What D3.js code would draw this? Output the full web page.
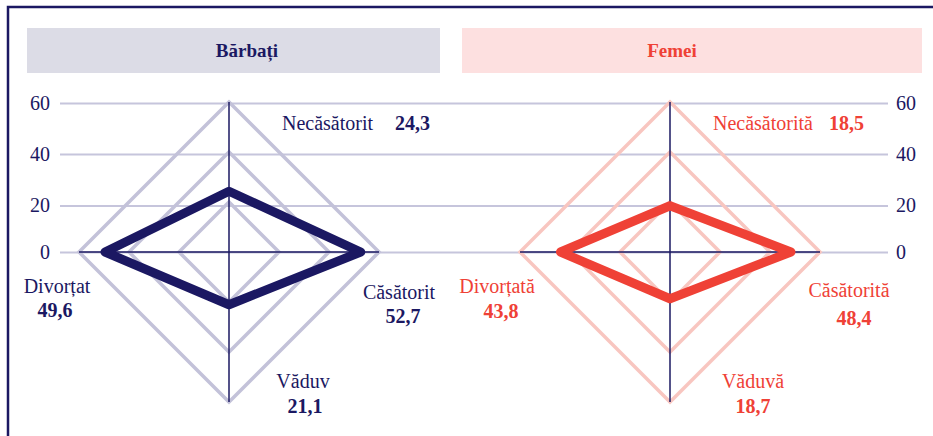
<!DOCTYPE html>
<html>
<head>
<meta charset="utf-8">
<script src="https://cdn.jsdelivr.net/npm/d3@7"></script>
<style>
  body { margin: 0; background: #fff; }
  svg text { font-family: 'Liberation Serif', 'Times New Roman', 'DejaVu Serif', serif !important; }
</style>
</head>
<body>
<script>
// chart data
var categoriesM = ["Necăsătorit", "Căsătorit", "Văduv", "Divorțat"];
var categoriesF = ["Necăsătorită", "Căsătorită", "Văduvă", "Divorțată"];
var valuesM = [24.3, 52.7, 21.1, 49.6];
var valuesF = [18.5, 48.4, 18.7, 43.8];
var ringLevels = [20, 40, 60];
var yTicks = [0, 20, 40, 60];
var titles = ["Bărbați", "Femei"];

var navy = "#1b1862", red = "#ef4136";
var serif = "'Liberation Serif', 'Times New Roman', 'DejaVu Serif', serif";
var w = 933, h = 436;

var svg = d3.select("body").append("svg")
    .attr("width", w)
    .attr("height", h)
    .style("font-family", serif);

// frame (left + top edges only visible)
svg.append("path")
    .attr("d", "M8," + (h + 10) + "L8,7L" + (w + 10) + ",7")
    .attr("fill", "none")
    .attr("stroke", navy)
    .attr("stroke-width", 2.5);

// header boxes
var headers = [
    {x: 27, w: 413, fill: "#dcdce6", color: navy, tx: 247},
    {x: 462, w: 460, fill: "#fde0e0", color: red, tx: 672}
];
headers.forEach(function(hd, i) {
    svg.append("rect")
        .attr("x", hd.x).attr("y", 28)
        .attr("width", hd.w).attr("height", 45)
        .attr("fill", hd.fill);
    svg.append("text")
        .attr("x", hd.tx).attr("y", 57)
        .attr("text-anchor", "middle")
        .style("font-family", serif)
        .style("font-size", "19px")
        .style("font-weight", "bold")
        .attr("fill", hd.color)
        .text(titles[i]);
});

// y scale for the horizontal gridlines
var y = d3.scaleLinear()
    .domain([0, 20, 40, 60])
    .range([252, 205.5, 154, 103]);

var gridLeft = 60, gridRight = 888;

var axL = svg.append("g")
    .attr("transform", "translate(" + gridLeft + ",0)")
    .call(d3.axisLeft(y).tickValues(yTicks).tickSize(-(gridRight - gridLeft)).tickPadding(10));
axL.select(".domain").remove();
axL.selectAll("line").attr("stroke", "#c6c5dc").attr("stroke-width", 2);

var axR = svg.append("g")
    .attr("transform", "translate(" + gridRight + ",0)")
    .call(d3.axisRight(y).tickValues(yTicks).tickSize(0).tickPadding(8));
axR.select(".domain").remove();

svg.selectAll(".tick text")
    .style("font-family", serif)
    .style("font-size", "20px")
    .attr("fill", navy);

// radial scale
var r = d3.scaleLinear().domain([0, 60]).range([0, 150]);
// top, right, bottom, left
var angles = [0, Math.PI / 2, Math.PI, 3 * Math.PI / 2];

function pt(a, v) {
    return [Math.sin(a) * r(v), -Math.cos(a) * r(v)];
}

var charts = [
    {
        cx: 229, cy: 252, cats: categoriesM, vals: valuesM,
        ring: "#c3c2d9", line: navy, text: navy,
        // [name dx, name dy, value dx, value dy, anchor]
        lab: [[53, -122, 166, -122, "start"], [170, 47, 174, 71, "middle"],
              [74, 136, 76, 161, "middle"], [-172, 41, -174, 65, "middle"]]
    },
    {
        cx: 670, cy: 252, cats: categoriesF, vals: valuesF,
        ring: "#f8c6c0", line: red, text: red,
        lab: [[43, -122, 159, -122, "start"], [179, 45, 184, 73, "middle"],
              [83, 136, 83, 161, "middle"], [-173, 41, -169, 66, "middle"]]
    }
];

var line = d3.line().curve(d3.curveLinearClosed);

charts.forEach(function(c) {
    var g = svg.append("g").attr("transform", "translate(" + c.cx + "," + c.cy + ")");

    // rings
    g.selectAll(".ring")
        .data(ringLevels)
        .enter().append("path")
        .attr("d", function(lv) {
            return line(angles.map(function(a) { return pt(a, lv); }));
        })
        .attr("fill", "none")
        .attr("stroke", c.ring)
        .attr("stroke-width", 3.5);

    // axes
    g.append("line")
        .attr("x1", -r(60)).attr("x2", r(60))
        .attr("y1", 0).attr("y2", 0)
        .attr("stroke", navy).attr("stroke-width", 1.5);
    g.append("line")
        .attr("x1", 0).attr("x2", 0)
        .attr("y1", -r(60)).attr("y2", r(60))
        .attr("stroke", navy).attr("stroke-width", 1.5);

    // data polygon
    g.append("path")
        .attr("d", line(c.vals.map(function(v, i) { return pt(angles[i], v); })))
        .attr("fill", "none")
        .attr("stroke", c.line)
        .attr("stroke-width", 9)
        .attr("stroke-linejoin", "round");

    // labels
    c.cats.forEach(function(name, i) {
        var L = c.lab[i];
        g.append("text")
            .attr("x", L[0]).attr("y", L[1])
            .attr("text-anchor", L[4])
            .style("font-family", serif)
            .style("font-size", "20px")
            .attr("fill", c.text)
            .text(name);
        g.append("text")
            .attr("x", L[2]).attr("y", L[3])
            .attr("text-anchor", L[4])
            .style("font-family", serif)
            .style("font-size", "20px")
            .style("font-weight", "bold")
            .attr("fill", c.text)
            .text(d3.format(".1f")(c.vals[i]).replace(".", ","));
    });
});
</script>
</body>
</html>
